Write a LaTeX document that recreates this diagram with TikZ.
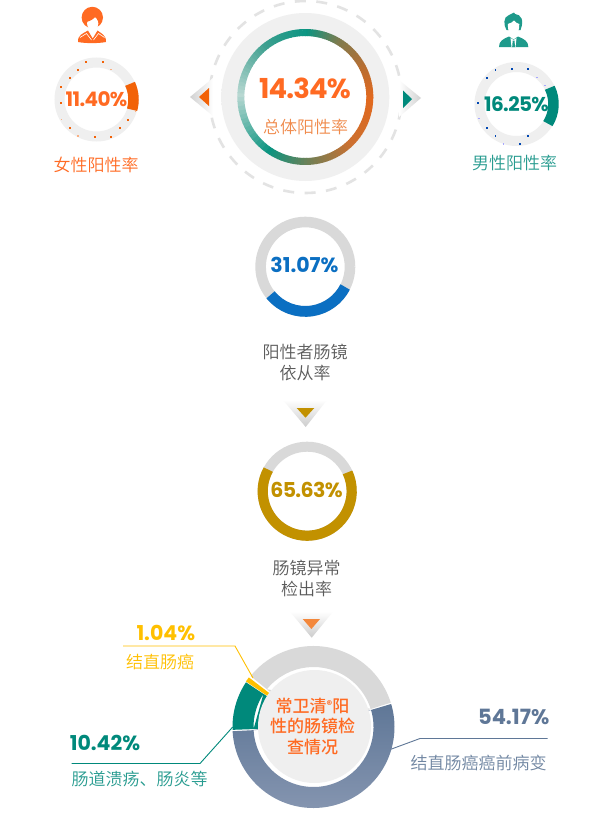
\documentclass[tikz,border=0pt]{standalone}
\usepackage{fontspec}
\newfontfamily\numf{Poppins}
\newfontfamily\numt{Poppins}[LetterSpace=-3]
\newfontfamily\cjk{Noto Sans CJK SC DemiLight}
\newfontfamily\cjkm{Noto Sans CJK SC Medium}
\usetikzlibrary{calc,shadings}
\definecolor{cOrange}{HTML}{F26207}
\definecolor{cOrangeT}{HTML}{FF6A22}
\definecolor{cOrangeL}{HTML}{F08A4B}
\definecolor{cTeal}{HTML}{00897B}
\definecolor{cIcon}{HTML}{1E9A8B}
\definecolor{cBlue}{HTML}{0B6FC2}
\definecolor{cGold}{HTML}{C29100}
\definecolor{cYel}{HTML}{FFC000}
\definecolor{cSlate}{HTML}{5F7797}
\definecolor{cSlateL}{HTML}{8595B0}
\definecolor{cGrayR}{HTML}{D9D9D9}
\definecolor{cPale}{HTML}{EFEFEF}
\definecolor{cDash}{HTML}{E3E3E3}
\definecolor{cTxt}{HTML}{5A5A5A}
\definecolor{gA}{HTML}{0A9582}
\definecolor{gB}{HTML}{7E7B4E}
\definecolor{gC}{HTML}{B56F34}
\definecolor{gD}{HTML}{E2691F}
\definecolor{gE}{HTML}{CC7030}
\definecolor{gF}{HTML}{7D7D50}
\definecolor{gG}{HTML}{0C9480}
\definecolor{gH}{HTML}{B8D8D2}
\definecolor{gI}{HTML}{3FA090}
\definecolor{dA}{HTML}{F0F0F0}
\definecolor{dB}{HTML}{F7F7F7}
\pgfdeclareradialshading{diskshade}{\pgfpoint{0bp}{0bp}}{color(0bp)=(dA);color(40bp)=(dA);color(50bp)=(dB)}
\tikzset{
  num/.style={inner sep=0pt,font=\numf\bfseries\fontsize{#1}{#1}\selectfont},
  numtight/.style={inner sep=0pt,font=\numt\bfseries\fontsize{#1}{#1}\selectfont},
  zh/.style={inner sep=0pt,font=\cjk\fontsize{17}{21}\selectfont,align=center},
  leader/.style={line width=0.9pt}
}
% centre x, centre y, mid radius, width, start, end, colour
\newcommand{\ringarc}[7]{\draw[line width=#4pt,#7] (#1,#2) ++(#5:#3pt) arc[start angle=#5,end angle=#6,radius=#3pt];}
\newcommand{\sectorpath}[6]{(#1,#2) ++(#5:#3pt) arc[start angle=#5,end angle=#6,radius=#3pt] -- (#1,#2) ++(#6:#4pt) arc[start angle=#6,end angle=#5,radius=#4pt] -- cycle}
\begin{document}
\begin{tikzpicture}[x=1pt,y=-1pt]
\useasboundingbox[fill=white] (0,0) rectangle (614,833);

% ---- top centre
\draw[cDash,line width=2.6pt,dash pattern=on 11pt off 10.5pt] (305.5,97) circle[radius=96pt];
\shade[shading=diskshade] (305.3,97) circle[radius=84pt];
\fill[white] (305.3,97) circle[radius=62pt];
\foreach \s/\e/\cA/\cB in {0/30/gA/gB,30/60/gB/gC,60/90/gC/gD,90/135/gD/gE,135/170/gE/gF,170/212/gF/gG,212/270/gG/gH,270/320/gH/gI,320/360/gI/gA}{
  \pgfmathsetmacro\stp{(\e-\s)/15}
  \foreach \i in {0,...,14}{
    \pgfmathsetmacro\pp{\i/15*100}
    \pgfmathsetmacro\aS{90-\s-\i*\stp}
    \pgfmathsetmacro\aE{\aS-\stp-0.5}
    \colorlet{tmpc}{\cB!\pp!\cA}
    \draw[line width=7pt,tmpc] (305.3,97) ++(\aS:64.5pt) arc[start angle=\aS,end angle=\aE,radius=64.5pt];
  }
}
\node[numtight=27.5,text=cOrangeT] (total) at (305,88) {14.34\%};
\node[zh,text=cOrangeL] (totallbl) at (305.5,127) {总体阳性率};

% ---- side arrows
\shade[left color=white!82!black,right color=white] (190,97) -- (213,78) -- (213,116) -- cycle;
\fill[cOrange] (199,97) -- (209,88) -- (209,106) -- cycle;
\shade[right color=white!82!black,left color=white] (421,98) -- (399,80) -- (399,117) -- cycle;
\fill[cTeal] (412,99) -- (403,90.5) -- (403,108) -- cycle;

% ---- female
\ringarc{96.5}{99.5}{37}{10}{0}{360}{cPale}
\foreach \dx/\dy in {86/61.7,103/61.7,78/69.7,70/78,61.3/87,61.3/103,70/128,95/136.7,111/136.7,120/128,128/120}{
  \fill[cOrange] (\dx-0.9,\dy-0.9) rectangle (\dx+0.9,\dy+0.9);}
\foreach \dx/\dy in {111/69.7,61.3/119.7,78/136,135.7/111.7}{
  \fill[cOrange!50] (\dx-0.7,\dy-0.7) rectangle (\dx+0.7,\dy+0.7);}
\ringarc{96.5}{99.5}{37}{10.5}{25}{-16}{cOrange}
\node[numtight=20,text=cOrangeT] (female) at (96.5,99.5) {11.40\%};
\node[zh,text=cOrangeT] (femalelbl) at (96,164.5) {女性阳性率};

% ---- female icon
\fill[cOrangeT] (92.3,17.5) circle[radius=10.7pt];
\fill[white] (92.7,23.5) ellipse[x radius=5.6pt,y radius=6.8pt];
\fill[cOrangeT] (86.5,22) .. controls (90,21) and (94,19) .. (96,16) .. controls (96.5,19) and (98,21) .. (99,22) -- (99,12) -- (86.5,12) -- cycle;
\fill[white] (89.5,28) -- (96,28) -- (95.5,31) -- (92.7,37) -- (89.8,31) -- cycle;
\fill[cOrangeT] (78,42) .. controls (77.5,35) and (83,33.5) .. (88,30.5) -- (92.7,38.5) -- (97.5,30.5) .. controls (101,33.5) and (106.5,35) .. (106,42) .. controls (98,43.5) and (86,43.5) .. (78,42) -- cycle;
\draw[white,line width=0.6pt] (80,37.5) -- (86.5,33.5) -- (91.5,40);
\draw[white,line width=0.6pt] (104.5,37.5) -- (98.5,33.5) -- (93.5,40);

% ---- male
\ringarc{516.5}{104}{37}{10}{0}{360}{cPale}
\foreach \dx/\dy in {495.3/69.7,511.7/69,528/69,487/77.7,478/103,487/127.7,495.3/136,528/136,520/144}{
  \fill[blue!60!cyan!70!black] (\dx-0.8,\dy-0.8) rectangle (\dx+0.8,\dy+0.8);}
\foreach \dx/\dy in {537/77.7,545/85.7,479/118.3,503.7/144}{
  \fill[blue!35] (\dx-0.6,\dy-0.6) rectangle (\dx+0.6,\dy+0.6);}
\ringarc{516.5}{104}{37}{10.5}{26}{-32}{cTeal}
\node[numtight=20,text=cTeal] (male) at (516.5,104) {16.25\%};
\node[zh,text=cTeal!85!white] (malelbl) at (514.5,163) {男性阳性率};

% ---- male icon
\fill[cIcon] (506.5,30) .. controls (503.5,25) and (503,17) .. (509,15) -- (514,12.5) -- (515,14) .. controls (521,14.5) and (524.5,20) .. (520.5,30) -- cycle;
\fill[white] (507.8,24) .. controls (510,23.5) and (513,22) .. (514,20.5) .. controls (515,22) and (517,23.5) .. (519.3,24) .. controls (519.8,31) and (516,36) .. (513.5,36) .. controls (511,36) and (507.3,31) .. (507.8,24) -- cycle;
\fill[cIcon] (499,47) .. controls (499,41) and (503,39) .. (509,36.5) -- (513.6,39.5) -- (518,36.5) .. controls (524,39) and (528.3,41) .. (528.3,47) -- cycle;
\fill[white] (510.5,38) -- (513.6,40) -- (516.5,38) -- (515.5,47) -- (511.5,47) -- cycle;
\fill[cIcon] (512.7,40.5) -- (514.5,40.5) -- (515,47) -- (512.2,47) -- cycle;

% ---- compliance
\ringarc{305.3}{266.7}{44.7}{10.6}{0}{360}{cGrayR}
\ringarc{305.3}{266.7}{44.7}{10.8}{219}{333}{cBlue}
\node[num=20.5,text=cBlue] (compl) at (304.5,265) {31.07\%};
\node[zh,text=cTxt] (compllbl) at (305,362.5) {阳性者肠镜\\依从率};
\shade[top color=white,bottom color=white!80!black] (283,400) -- (327,400) -- (305.7,427) -- cycle;
\fill[cGold] (296.7,408) -- (314.3,408) -- (305.5,417.7) -- cycle;

% ---- detection
\ringarc{307.2}{491.2}{44.5}{10}{0}{360}{cGrayR}
\ringarc{307.2}{491.2}{44.5}{10.2}{151}{385}{cGold}
\node[numtight=20.5,text=cGold] (detect) at (306.5,490) {65.63\%};
\node[zh,text=cTxt] (detectlbl) at (306.5,578) {肠镜异常\\检出率};
\shade[top color=white,bottom color=white!80!black] (290,611.7) -- (333,611.7) -- (311.7,637.7) -- cycle;
\fill[cOrangeL!80!orange] (302.7,619) -- (320,619) -- (311.4,629) -- cycle;

% ---- donut
\fill[cGrayR] \sectorpath{313.5}{727}{81}{60}{17.5}{141};
\fill[cTeal] \sectorpath{313.5}{727}{81}{60}{146.5}{182};
\fill[cYel] \sectorpath{313.5}{727}{81.5}{59}{142.5}{146};
\shade[top color=cSlate,bottom color=cSlateL] \sectorpath{313.5}{727}{81}{60}{183}{376.5};
\fill[cPale] (314.5,726.5) circle[radius=56.5pt];
\node[inner sep=0pt,font=\cjkm\fontsize{17}{20.5}\selectfont,align=center,text=cOrangeT] (centre) at (312.5,726.5) {常卫清\raisebox{3.5pt}{\numf\bfseries\fontsize{11}{11}\selectfont ®}阳\\性的肠镜检\\查情况};

% ---- labels on the donut
\coordinate (yA) at (123,646);\coordinate (yB) at (235,646);\coordinate (yC) at (253,678);
\draw[cYel,leader] (yA) -- (yB) -- (yC);
\node[num=20.5,text=cYel] (canpct) at (165.8,632.5) {1.04\%};
\node[zh,text=cYel] (canlbl) at (160,661.5) {结直肠癌};
\coordinate (tA) at (71.5,763.5);\coordinate (tB) at (200,763.5);\coordinate (tC) at (232.7,727);
\draw[cTeal,leader] (tA) -- (tB) -- (tC);
\node[num=20.5,text=cTeal] (ibdpct) at (105,743) {10.42\%};
\node[zh,text=cTeal!85!white] (ibdlbl) at (139.5,779) {肠道溃疡、肠炎等};
\coordinate (sA) at (547.7,738.5);\coordinate (sB) at (420,738.5);\coordinate (sC) at (390.7,749.3);
\draw[cSlate,leader] (sA) -- (sB) -- (sC);
\node[num=21,text=cSlate] (prepct) at (513.7,717) {54.17\%};
\node[zh,text=cSlate!90!white] (prelbl) at (478.5,763) {结直肠癌癌前病变};
\end{tikzpicture}
\end{document}
